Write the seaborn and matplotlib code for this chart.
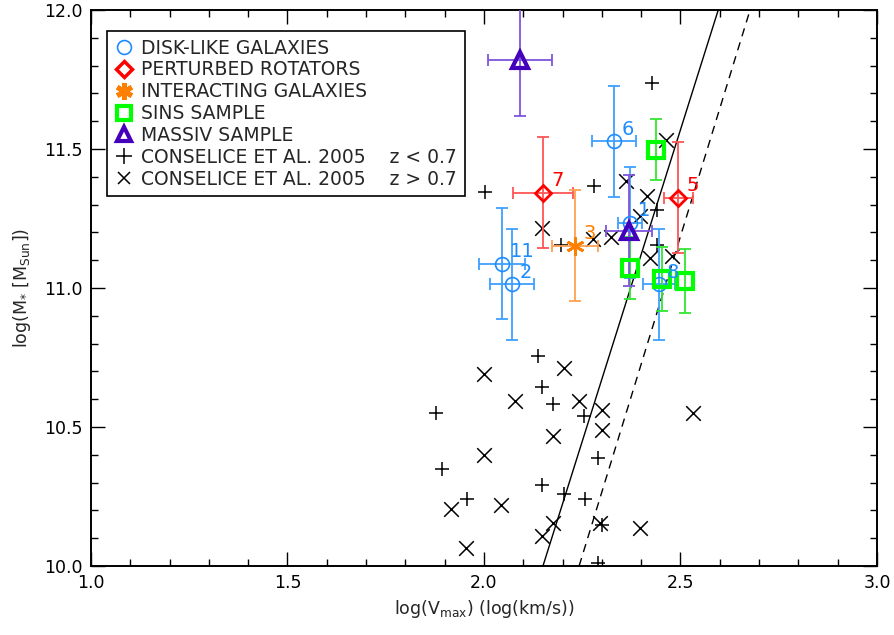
import numpy as np
import pandas as pd
import matplotlib
matplotlib.use("Agg")
import matplotlib.pyplot as plt
import seaborn as sns
from matplotlib.lines import Line2D

# ---------------- data ----------------
disk_labels = ["1", "2", "6", "8", "11"]
disk_x = [2.372, 2.071, 2.331, 2.445, 2.046]
disk_y = [11.235, 11.014, 11.527, 11.014, 11.087]
disk_xerr = [0.030, 0.056, 0.055, 0.040, 0.059]
disk_yerr = [0.20, 0.20, 0.20, 0.20, 0.20]

pert_labels = ["5", "7"]
pert_x = [2.494, 2.150]
pert_y = [11.325, 11.343]
pert_xerr = [0.037, 0.076]
pert_yerr = [0.20, 0.20]

inter_labels = ["3"]
inter_x = [2.232]
inter_y = [11.152]
inter_xerr = [0.059]
inter_yerr = [0.20]

sins_x = [2.438, 2.372, 2.453, 2.511]
sins_y = [11.498, 11.072, 11.032, 11.025]
sins_yerr = [0.11, 0.11, 0.115, 0.115]

massiv_x = [2.092, 2.369]
massiv_y = [11.819, 11.206]
massiv_xerr = [0.082, 0.058]
massiv_yerr = [0.20, 0.20]

cons_low_x = [2.003, 2.196, 2.280, 2.427, 2.440, 2.440, 2.138, 2.147, 2.176, 1.878,
              2.255, 2.290, 1.893, 2.147, 2.204, 1.956, 2.257, 2.301, 2.290]
cons_low_y = [11.345, 11.155, 11.368, 11.736, 11.280, 11.155, 10.755, 10.643, 10.581, 10.552,
              10.541, 10.390, 10.350, 10.292, 10.260, 10.242, 10.242, 10.149, 10.011]

cons_high_x = [2.361, 2.415, 2.463, 2.397, 2.148, 2.277, 2.323, 2.422, 2.478,
               2.001, 2.204, 2.079, 2.242, 2.300, 2.532, 2.300, 2.176, 2.000, 1.915,
               2.043, 2.176, 2.147, 2.295, 2.397, 1.954]
cons_high_y = [11.386, 11.330, 11.531, 11.260, 11.217, 11.177, 11.184, 11.108, 11.116,
               10.692, 10.711, 10.592, 10.592, 10.560, 10.549, 10.490, 10.469, 10.400, 10.206,
               10.220, 10.156, 10.108, 10.156, 10.137, 10.065]

tf_solid_x = [2.150, 2.596]
tf_solid_y = [10.0, 12.0]
tf_dashed_x = [2.242, 2.677]
tf_dashed_y = [10.0, 12.0]

x_ticks = [1.0, 1.5, 2.0, 2.5, 3.0]
y_ticks = [10.0, 10.5, 11.0, 11.5, 12.0]

# ---------------- style ----------------
sns.set_style("ticks")
plt.rcParams["font.family"] = ["DejaVu Sans"]
plt.rcParams["mathtext.fontset"] = "dejavusans"

fig = plt.figure(figsize=(8.95, 6.35), dpi=100)
ax = fig.add_axes([91 / 895, 69 / 635, 786 / 895, 556 / 635])

# Conselice points via seaborn
df_low = pd.DataFrame({"x": cons_low_x, "y": cons_low_y})
df_high = pd.DataFrame({"x": cons_high_x, "y": cons_high_y})
sns.scatterplot(data=df_low, x="x", y="y", marker="+", s=110, color="black",
                linewidth=1.1, ax=ax, zorder=3)
sns.scatterplot(data=df_high, x="x", y="y", marker="x", s=110, color="black",
                linewidth=1.1, ax=ax, zorder=3)

# Tully-Fisher lines
sns.lineplot(x=tf_solid_x, y=tf_solid_y, color="black", lw=1.0, ax=ax, zorder=2)
sns.lineplot(x=tf_dashed_x, y=tf_dashed_y, color="black", lw=1.0, ax=ax, zorder=2,
             dashes=False, linestyle=(0, (6, 4.5)))

ebkw = dict(capsize=4.5, elinewidth=1.3, capthick=1.3, zorder=4, ls="none")

# disk-like
c_disk, e_disk = "#1E8CFF", "#3FA0FF"
ax.errorbar(disk_x, disk_y, xerr=disk_xerr, yerr=disk_yerr, ecolor=e_disk, **ebkw)
ax.plot(disk_x, disk_y, "o", ms=10, mfc="none", mec=c_disk, mew=1.2, zorder=5)

# perturbed
c_pert, e_pert = "#FF0000", "#FF5555"
ax.errorbar(pert_x, pert_y, xerr=pert_xerr, yerr=pert_yerr, ecolor=e_pert, **ebkw)
ax.plot(pert_x, pert_y, "D", ms=8, mfc="none", mec=c_pert, mew=2.0, zorder=5)

# interacting
c_int, e_int = "#FF7F00", "#FFA050"
ax.errorbar(inter_x, inter_y, xerr=inter_xerr, yerr=inter_yerr, ecolor=e_int, **ebkw)
ax.plot(inter_x, inter_y, marker=(6, 2, 0), ms=13, color=c_int, mew=2.0, ls="none", zorder=5)

# SINS
c_sins, e_sins = "#00FF00", "#33E633"
ax.errorbar(sins_x, sins_y, yerr=sins_yerr, ecolor=e_sins, **ebkw)
ax.plot(sins_x, sins_y, "s", ms=11, mfc="none", mec=c_sins, mew=3.0, zorder=6)

# MASSIV
c_mas, e_mas = "#4400BB", "#7F55DD"
ax.errorbar(massiv_x, massiv_y, xerr=massiv_xerr, yerr=massiv_yerr, ecolor=e_mas, **ebkw)
ax.plot(massiv_x, massiv_y, "^", ms=11, mfc="none", mec=c_mas, mew=3.0, zorder=6)

# number labels
def label_points(xs, ys, labs, color):
    for x, y, t in zip(xs, ys, labs):
        ax.annotate(t, (x, y), xytext=(8, 12), textcoords="offset pixels",
                    color=color, fontsize=14, ha="left", va="center", zorder=7)

label_points(disk_x, disk_y, disk_labels, c_disk)
label_points(pert_x, pert_y, pert_labels, c_pert)
label_points(inter_x, inter_y, inter_labels, c_int)

# axes
ax.set_xlim(1.0, 3.0)
ax.set_ylim(10.0, 12.0)
ax.set_xticks(x_ticks)
ax.set_yticks(y_ticks)
ax.set_xticklabels([f"{v:.1f}" for v in x_ticks])
ax.set_yticklabels([f"{v:.1f}" for v in y_ticks])
ax.set_xticks(np.arange(1.0, 3.0001, 0.1), minor=True)
ax.set_yticks(np.arange(10.0, 12.0001, 0.1), minor=True)
ax.tick_params(which="both", direction="in", top=True, right=True, width=1.0,
               labelsize=12.5, colors="black")
ax.tick_params(which="major", length=10, pad=6)
ax.tick_params(which="minor", length=5)
for s in ax.spines.values():
    s.set_linewidth(1.4)
    s.set_color("black")

ax.set_xlabel(r"log(V$_{\mathrm{max}}$) (log(km/s))", fontsize=12.5, labelpad=4)
ax.set_ylabel(r"log(M$_{*}$ [M$_{\mathrm{Sun}}$])", fontsize=12.5, labelpad=8)

# legend
handles = [
    Line2D([], [], marker="o", ls="none", ms=10, mfc="none", mec=c_disk, mew=1.2),
    Line2D([], [], marker="D", ls="none", ms=8, mfc="none", mec=c_pert, mew=2.5),
    Line2D([], [], marker=(6, 2, 0), ls="none", ms=12, color=c_int, mew=3.5),
    Line2D([], [], marker="s", ls="none", ms=10, mfc="none", mec=c_sins, mew=3.0),
    Line2D([], [], marker="^", ls="none", ms=10, mfc="none", mec=c_mas, mew=3.0),
    Line2D([], [], marker="+", ls="none", ms=11, color="black", mew=1.1),
    Line2D([], [], marker="x", ls="none", ms=9, color="black", mew=1.1),
]
labels = ["DISK-LIKE GALAXIES", "PERTURBED ROTATORS", "INTERACTING GALAXIES",
          "SINS SAMPLE", "MASSIV SAMPLE",
          "CONSELICE ET AL. 2005    z < 0.7", "CONSELICE ET AL. 2005    z > 0.7"]
leg = ax.legend(handles, labels, loc="upper left", bbox_to_anchor=(0.02, 0.962),
                borderaxespad=0, fancybox=False, framealpha=1, edgecolor="black",
                fontsize=13.5, handlelength=1.0, handletextpad=0.45,
                labelspacing=0.15, borderpad=0.4)
leg.get_frame().set_linewidth(1.2)

fig.savefig("out.png", dpi=100)
